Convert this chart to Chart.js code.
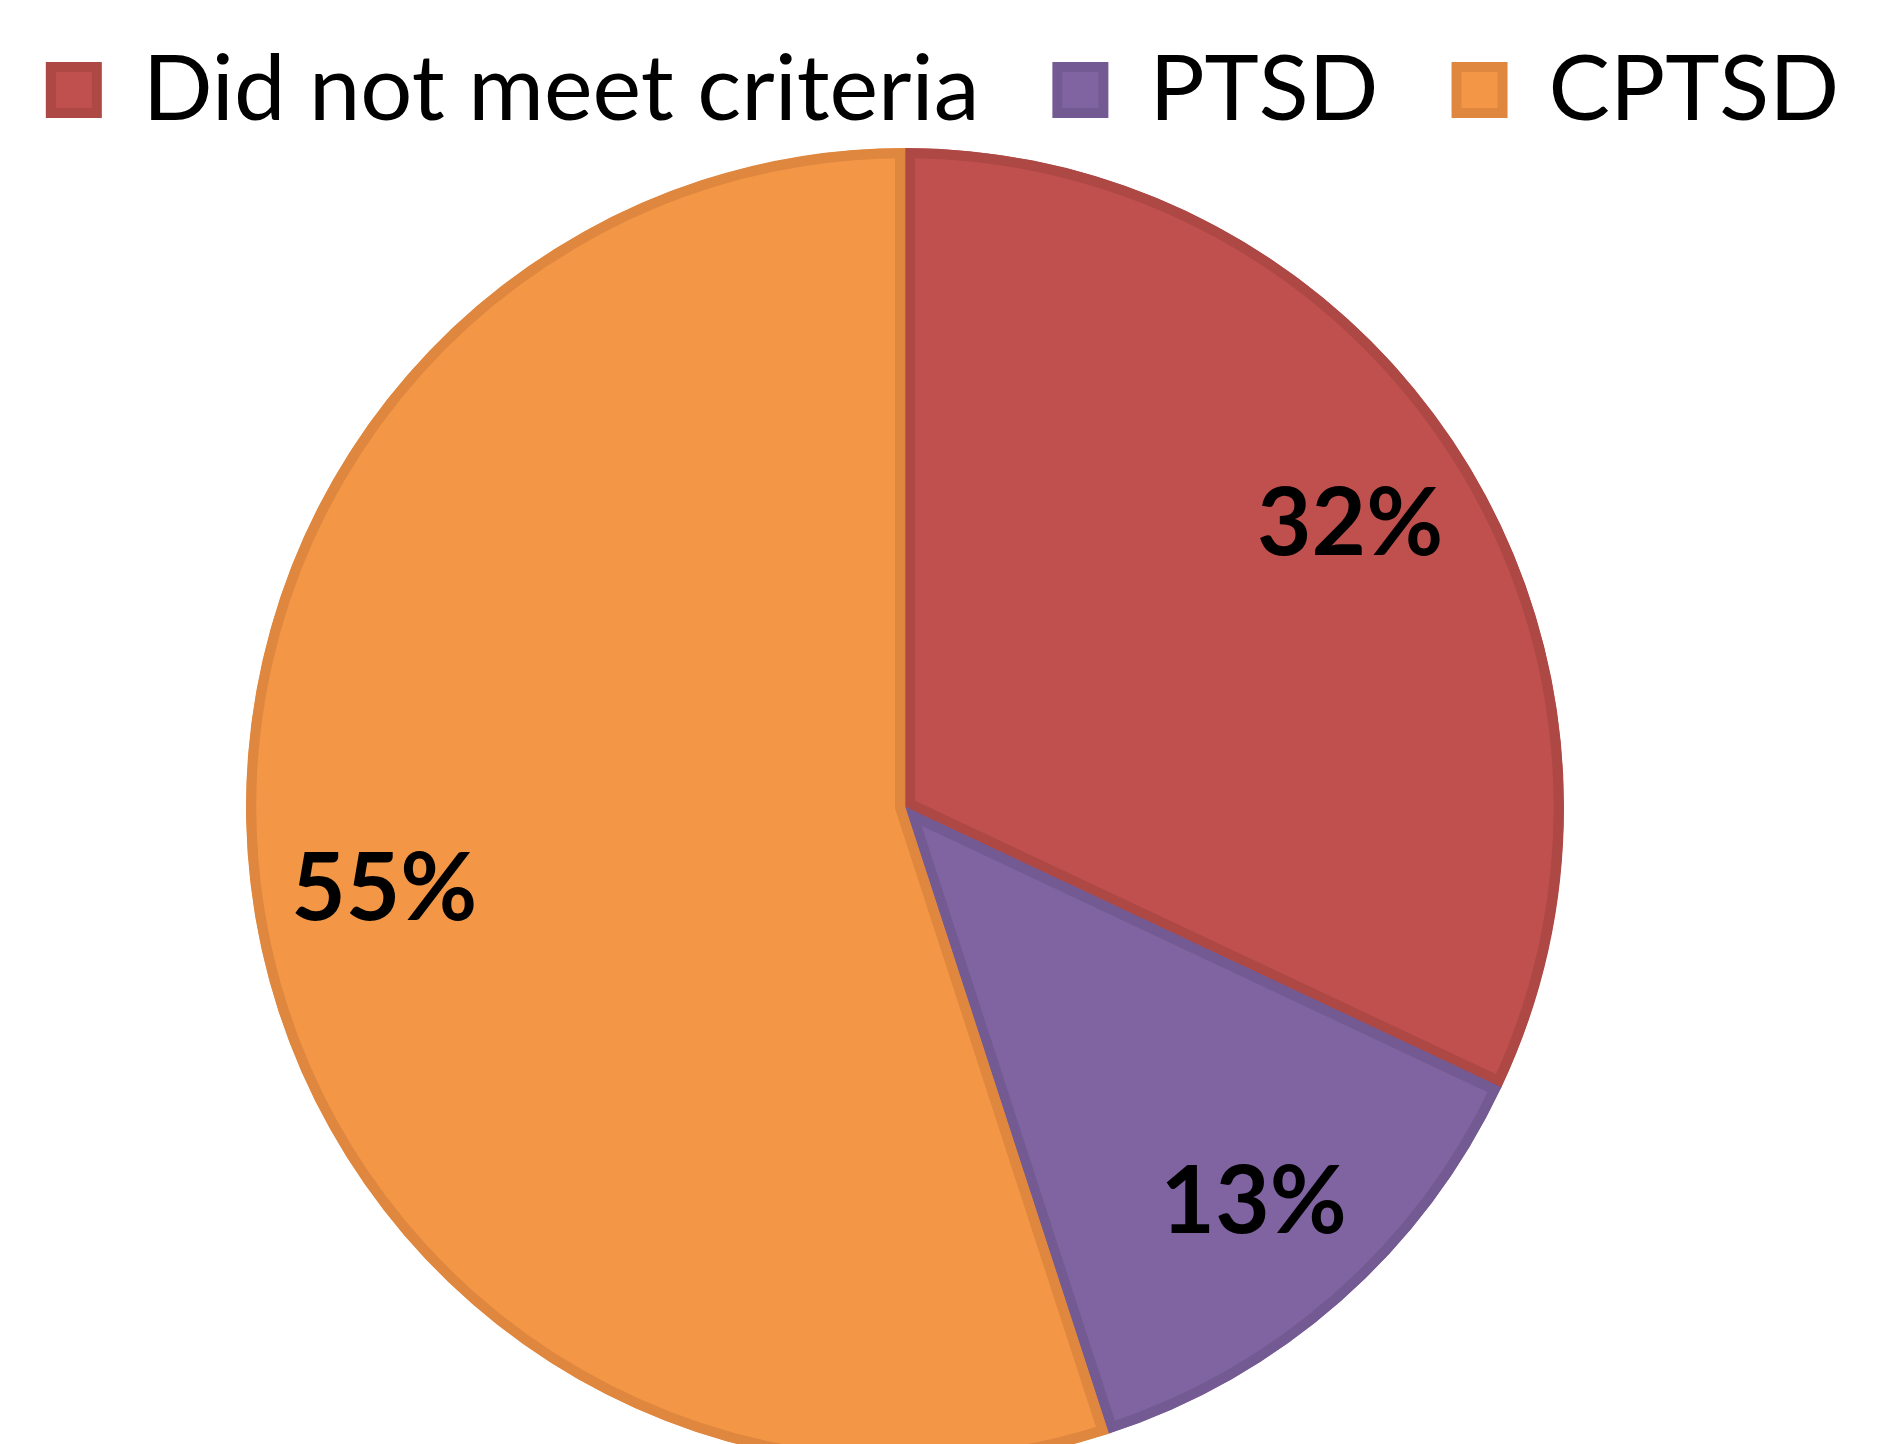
<!DOCTYPE html>
<html>
<head>
<meta charset="utf-8">
<title>PTSD / CPTSD</title>
<script src="https://cdn.jsdelivr.net/npm/chart.js@4.4.1/dist/chart.umd.min.js"></script>
<style>
    html, body { margin: 0; padding: 0; background: #fff; overflow: hidden; }
    #wrap { position: relative; width: 1878px; height: 1468px; }
</style>
</head>
<body>
<div id="wrap"><canvas id="pieChart"></canvas></div>
<script>
// ============================================================================
// Data
// ============================================================================

const categories = ['Did not meet criteria', 'PTSD', 'CPTSD'];
const percentages = [32, 13, 55];
const fillColors = ['#C0504D', '#8064A2', '#F39747'];
const edgeColors = ['#AD4845', '#735A92', '#DF873E'];

// ============================================================================
// Plugins
// ============================================================================

/**
 * Percent labels inside each slice
 */
const sliceLabels = {
    id: 'sliceLabels',
    afterDatasetsDraw(chart) {
        const ctx = chart.ctx;
        const meta = chart.getDatasetMeta(0);
        ctx.save();
        ctx.font = 'bold 94px Lato';
        ctx.fillStyle = '#000';
        ctx.textAlign = 'center';
        ctx.textBaseline = 'middle';
        meta.data.forEach((arc, i) => {
            const p = arc.getProps(['x', 'y', 'startAngle', 'endAngle', 'outerRadius'], true);
            const mid = (p.startAngle + p.endAngle) / 2;
            const r = p.outerRadius * 0.8;
            ctx.fillText(percentages[i] + '%', p.x + Math.cos(mid) * r, p.y + Math.sin(mid) * r);
        });
        ctx.restore();
    }
};

/**
 * Pie sits a bit left of the page centre, legend stays centred
 */
const pieOffset = {
    id: 'pieOffset',
    afterLayout(chart) {
        chart.chartArea.left = 0;
        chart.chartArea.right = 1810;
        chart.chartArea.width = 1810;
        chart.legend.left += 6;
        chart.legend.right += 6;
    }
};

// ============================================================================
// Chart
// ============================================================================

document.addEventListener('DOMContentLoaded', function() {
    const ctx = document.getElementById('pieChart').getContext('2d');

    new Chart(ctx, {
        type: 'pie',
        data: {
            labels: categories,
            datasets: [{
                data: percentages,
                backgroundColor: fillColors,
                borderColor: edgeColors,
                borderWidth: 10,
                borderAlign: 'inner'
            }]
        },
        options: {
            responsive: true,
            maintainAspectRatio: false,
            animation: false,
            radius: 659,
            layout: {
                padding: { top: -34, right: -100, bottom: 0, left: -100 }
            },
            plugins: {
                tooltip: { enabled: false },
                legend: {
                    display: true,
                    position: 'top',
                    labels: {
                        color: '#000',
                        font: { family: 'Lato', size: 92 },
                        boxWidth: 46,
                        boxHeight: 46,
                        padding: 78
                    }
                }
            }
        },
        plugins: [sliceLabels, pieOffset]
    });
});
</script>
</body>
</html>
